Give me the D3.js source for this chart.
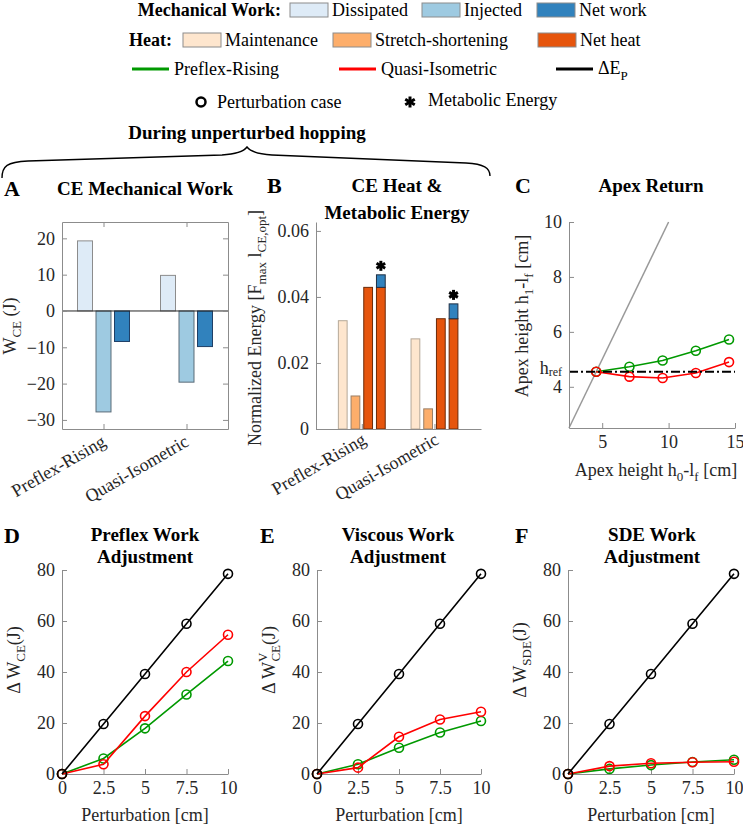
<!DOCTYPE html>
<meta charset="utf-8">
<style>
body { margin: 0; background: #fff; }
svg { font-family: "Liberation Serif", "Times New Roman", serif; }
.axis path, .axis line { stroke: #8c8c8c; stroke-width: 1; }
.axis text { fill: #262626; font-size: 18px; font-family: "Liberation Serif", "Times New Roman", serif; }
.title { font-weight: bold; font-size: 19px; text-anchor: middle; fill: #000; }
.letter { font-weight: bold; font-size: 22px; fill: #000; }
.lab { font-size: 18px; fill: #262626; }
.leg { font-size: 18px; fill: #000; }
</style>
<body>
<script src="https://d3js.org/d3.v7.min.js"></script>
<script>
// values
var categories = ["Preflex-Rising", "Quasi-Isometric"];
var workDissipated = [19.3, 9.8];
var workInjected = [-27.8, -19.6];
var workNet = [-8.4, -9.8];
var heatMaintenance = [0.0328, 0.0273];
var heatStretch = [0.0100, 0.0061];
var heatNet = [0.0429, 0.0334];
var metabolicEnergy = [0.0467, 0.0379];

var hRef = 4.55;
var apexBefore = [4.55, 7.05, 9.55, 12.05, 14.55];
var apexAfterPR = [4.55, 4.73, 4.96, 5.31, 5.72];
var apexAfterQI = [4.55, 4.37, 4.32, 4.50, 4.90];
var identityLine = [2.5, 10];

var perturbation = [0, 2.5, 5, 7.5, 10];
var deltaEp = [0, 19.6, 39.2, 58.9, 78.5];
var preflexPR = [0, 6.1, 17.9, 31.2, 44.3];
var preflexQI = [0, 3.8, 22.7, 40.0, 54.6];
var viscousPR = [0, 3.8, 10.3, 16.3, 20.8];
var viscousQI = [0, 2.5, 14.6, 21.4, 24.4];
var sdePR = [0, 2.0, 3.5, 4.7, 5.6];
var sdeQI = [0, 3.1, 4.2, 4.6, 4.8];

var workTicks = [-30, -20, -10, 0, 10, 20];
var energyTicks = [0, 0.02, 0.04, 0.06];
var apexTicksX = [5, 10, 15];
var apexTicksY = [4, 6, 8, 10];
var pertTicks = [0, 2.5, 5, 7.5, 10];
var adjTicks = [0, 20, 40, 60, 80];

var green = "#009900", red = "#ff0000";
var blues = ["#deebf7", "#9ecae1", "#3182bd"];
var oranges = ["#fee6ce", "#fdae6b", "#e6550d"];

var svg = d3.select("body").append("svg")
    .attr("width", 743)
    .attr("height", 825);

function rich(sel, parts) {
  parts.forEach(function(p) {
    var t = sel.append("tspan").text(p.t);
    if (p.size) t.attr("font-size", p.size);
    if (p.dy) t.attr("dy", p.dy);
    if (p.dx) t.attr("dx", p.dx);
  });
  return sel;
}

function yLabel(x, y, parts) {
  var t = svg.append("text").attr("class", "lab")
      .attr("text-anchor", "middle")
      .attr("transform", "translate(" + x + "," + y + ") rotate(-90)");
  rich(t, parts);
}

function star(g, cx, cy, r) {
  [90, 30, 150].forEach(function(a) {
    var dx = r * Math.cos(a * Math.PI / 180), dy = r * Math.sin(a * Math.PI / 180);
    g.append("line").attr("x1", cx - dx).attr("y1", cy - dy).attr("x2", cx + dx).attr("y2", cy + dy)
      .attr("stroke", "#000").attr("stroke-width", 3);
  });
}

function inward(axis) { return axis.tickSizeInner(-5).tickSizeOuter(0).tickPadding(7); }

// ---------- legend ----------
var leg = svg.append("g");
leg.append("text").attr("class", "leg").attr("x", 281).attr("y", 16).attr("text-anchor", "end")
  .attr("font-weight", "bold").text("Mechanical Work:");
[["Dissipated", 290], ["Injected", 422], ["Net work", 537]].forEach(function(d, i) {
  leg.append("rect").attr("x", d[1]).attr("y", 3).attr("width", 38).attr("height", 14)
    .attr("fill", blues[i]).attr("stroke", "#8c8c8c");
  leg.append("text").attr("class", "leg").attr("x", d[1] + 42).attr("y", 16).text(d[0]);
});
leg.append("text").attr("class", "leg").attr("x", 172).attr("y", 46).attr("text-anchor", "end")
  .attr("font-weight", "bold").text("Heat:");
[["Maintenance", 183], ["Stretch-shortening", 333], ["Net heat", 538]].forEach(function(d, i) {
  leg.append("rect").attr("x", d[1]).attr("y", 33).attr("width", 38).attr("height", 14)
    .attr("fill", oranges[i]).attr("stroke", "#8c8c8c");
  leg.append("text").attr("class", "leg").attr("x", d[1] + 42).attr("y", 46).text(d[0]);
});
[["Preflex-Rising", 132, green], ["Quasi-Isometric", 339, red], ["", 556, "#000"]].forEach(function(d) {
  leg.append("line").attr("x1", d[1]).attr("x2", d[1] + 37).attr("y1", 69).attr("y2", 69)
    .attr("stroke", d[2]).attr("stroke-width", 3);
  if (d[0]) leg.append("text").attr("class", "leg").attr("x", d[1] + 42).attr("y", 75).text(d[0]);
});
rich(leg.append("text").attr("class", "leg").attr("x", 598).attr("y", 74),
  [{t: "\u0394E"}, {t: "P", size: 13, dy: 6}]);
leg.append("circle").attr("cx", 201).attr("cy", 102).attr("r", 4.5)
  .attr("fill", "none").attr("stroke", "#000").attr("stroke-width", 2.5);
leg.append("text").attr("class", "leg").attr("x", 217).attr("y", 108).text("Perturbation case");
star(leg, 410, 102, 5.5);
leg.append("text").attr("class", "leg").attr("x", 428).attr("y", 106).text("Metabolic Energy");

svg.append("text").attr("class", "title").attr("x", 247).attr("y", 139).attr("font-size", 18)
  .text("During unperturbed hopping");
svg.append("path")
  .attr("d", "M2,178 C2,166 7,162 28,161 L222,155 C238,154 244,151 247,147 C250,151 256,154 272,155 L466,163 C484,164 490,168 490,176")
  .attr("fill", "none").attr("stroke", "#000").attr("stroke-width", 1.4);

// ---------- A: CE mechanical work ----------
var xA = d3.scaleLinear().domain([0.5, 2.5]).range([62, 228]);
var yA = d3.scaleLinear().domain([-32.5, 24.5]).range([429, 222]);
var inA = d3.scaleBand().domain([0, 1, 2]).range([-27.75, 27.75]).paddingInner(0.19).paddingOuter(0.095);
var workSeries = [workDissipated, workInjected, workNet];
var workEdge = ["#8c8c8c", "#5a6b78", "#1f3f66"];
var gA = svg.append("g");
workSeries.forEach(function(vals, s) {
  gA.selectAll(null).data(vals).enter().append("rect")
    .attr("x", function(d, i) { return xA(i + 1) + inA(s); })
    .attr("width", inA.bandwidth())
    .attr("y", function(d) { return yA(Math.max(0, d)); })
    .attr("height", function(d) { return Math.abs(yA(d) - yA(0)); })
    .attr("fill", blues[s]).attr("stroke", workEdge[s]);
});
gA.append("line").attr("x1", 62).attr("x2", 228).attr("y1", yA(0)).attr("y2", yA(0))
  .attr("stroke", "#262626");
svg.append("g").attr("class", "axis").attr("transform", "translate(62,0)")
  .call(inward(d3.axisLeft(yA).tickValues(workTicks)));
svg.append("g").attr("class", "axis").attr("transform", "translate(228,0)")
  .call(inward(d3.axisRight(yA).tickValues(workTicks)).tickFormat(""));
svg.append("g").attr("class", "axis").attr("transform", "translate(0,222)")
  .call(inward(d3.axisTop(xA).tickValues([1, 2])).tickFormat(""));
svg.append("g").attr("class", "axis").attr("transform", "translate(0,429)")
  .call(inward(d3.axisBottom(xA).tickValues([1, 2])).tickFormat(function(d) { return categories[d - 1]; }))
  .selectAll("text").attr("y", 0).attr("dy", 0).attr("text-anchor", "end")
  .attr("transform", "translate(3,16) rotate(-30)");
svg.append("text").attr("class", "letter").attr("x", 4).attr("y", 196).text("A");
svg.append("text").attr("class", "title").attr("x", 145).attr("y", 195).text("CE Mechanical Work");
yLabel(16, 326, [{t: "W"}, {t: "CE", size: 13, dy: 5}, {t: " (J)", dy: -5}]);

// ---------- B: heat & metabolic energy ----------
var xB = d3.scaleLinear().domain([0.37, 2.64]).range([316, 481]);
var yB = d3.scaleLinear().domain([0, 0.0627]).range([429, 222]);
var inB = d3.scaleBand().domain([0, 1, 2, 3]).range([-25.4, 25.4]).paddingInner(0.31).paddingOuter(0.155);
var heatSeries = [heatMaintenance, heatStretch, heatNet];
var heatEdge = ["#b5a898", "#9a7f66", "#6b2a08"];
var gB = svg.append("g");
heatSeries.forEach(function(vals, s) {
  gB.selectAll(null).data(vals).enter().append("rect")
    .attr("x", function(d, i) { return xB(i + 1) + inB(s); })
    .attr("width", inB.bandwidth())
    .attr("y", function(d) { return yB(d); })
    .attr("height", function(d) { return yB(0) - yB(d); })
    .attr("fill", oranges[s]).attr("stroke", heatEdge[s]);
});
// metabolic = net heat + net work stacked
gB.selectAll(null).data(heatNet).enter().append("rect")
  .attr("x", function(d, i) { return xB(i + 1) + inB(3); })
  .attr("width", inB.bandwidth())
  .attr("y", function(d) { return yB(d); })
  .attr("height", function(d) { return yB(0) - yB(d); })
  .attr("fill", oranges[2]).attr("stroke", heatEdge[2]);
gB.selectAll(null).data(metabolicEnergy).enter().append("rect")
  .attr("x", function(d, i) { return xB(i + 1) + inB(3); })
  .attr("width", inB.bandwidth())
  .attr("y", function(d) { return yB(d); })
  .attr("height", function(d, i) { return yB(heatNet[i]) - yB(d); })
  .attr("fill", blues[2]).attr("stroke", "#1f2f44");
metabolicEnergy.forEach(function(d, i) {
  star(gB, xB(i + 1) + inB(3) + inB.bandwidth() / 2, yB(d) - 9, 5);
});
svg.append("g").attr("class", "axis").attr("transform", "translate(316,0)")
  .call(inward(d3.axisLeft(yB).tickValues(energyTicks))
    .tickFormat(function(d) { return d === 0 ? "0" : d3.format(".2f")(d); }));
svg.append("g").attr("class", "axis").attr("transform", "translate(0,429)")
  .call(inward(d3.axisBottom(xB).tickValues([1, 2])).tickFormat(function(d) { return categories[d - 1]; }))
  .selectAll("text").attr("y", 0).attr("dy", 0).attr("text-anchor", "end")
  .attr("transform", "translate(5,14) rotate(-30)");
svg.append("text").attr("class", "letter").attr("x", 267).attr("y", 193).text("B");
svg.append("text").attr("class", "title").attr("x", 397).attr("y", 192).text("CE Heat &");
svg.append("text").attr("class", "title").attr("x", 397).attr("y", 219).text("Metabolic Energy");
yLabel(261, 328, [{t: "Normalized Energy [F"}, {t: "max", size: 13, dy: 5}, {t: " l", dy: -5},
  {t: "CE,opt", size: 13, dy: 5}, {t: "]", dy: -5}]);

// ---------- C: apex return ----------
var xC = d3.scaleLinear().domain([2.5, 15]).range([569, 735]);
var yC = d3.scaleLinear().domain([2.5, 10]).range([428, 222]);
var gC = svg.append("g");
gC.append("path").datum(identityLine)
  .attr("d", d3.line().x(function(d) { return xC(d); }).y(function(d) { return yC(d); }))
  .attr("fill", "none").attr("stroke", "#999").attr("stroke-width", 1.5);
[[apexAfterPR, green], [apexAfterQI, red]].forEach(function(s) {
  gC.append("path").datum(s[0])
    .attr("d", d3.line().x(function(d, i) { return xC(apexBefore[i]); }).y(function(d) { return yC(d); }))
    .attr("fill", "none").attr("stroke", s[1]).attr("stroke-width", 1.6);
  gC.selectAll(null).data(s[0]).enter().append("circle")
    .attr("cx", function(d, i) { return xC(apexBefore[i]); })
    .attr("cy", function(d) { return yC(d); })
    .attr("r", 4.5).attr("fill", "none").attr("stroke", s[1]).attr("stroke-width", 1.6);
});
gC.append("line").attr("x1", xC(2.5)).attr("x2", xC(15)).attr("y1", yC(hRef)).attr("y2", yC(hRef))
  .attr("stroke", "#000").attr("stroke-width", 2).attr("stroke-dasharray", "9,3,2,3");
svg.append("g").attr("class", "axis").attr("transform", "translate(569,0)")
  .call(inward(d3.axisLeft(yC).tickValues(apexTicksY)));
svg.append("g").attr("class", "axis").attr("transform", "translate(0,428)")
  .call(inward(d3.axisBottom(xC).tickValues(apexTicksX)));
rich(svg.append("text").attr("class", "lab").attr("x", 562).attr("y", yC(hRef) + 2).attr("text-anchor", "end"),
  [{t: "h"}, {t: "ref", size: 12, dy: 2}]);
svg.append("text").attr("class", "letter").attr("x", 515).attr("y", 193).text("C");
svg.append("text").attr("class", "title").attr("x", 651).attr("y", 192).text("Apex Return");
yLabel(528, 316, [{t: "Apex height h"}, {t: "1", size: 13, dy: 5}, {t: "-l", dy: -5},
  {t: "f", size: 13, dy: 5}, {t: " [cm]", dy: -5}]);
rich(svg.append("text").attr("class", "lab").attr("x", 656).attr("y", 476).attr("text-anchor", "middle"),
  [{t: "Apex height h"}, {t: "0", size: 13, dy: 5}, {t: "-l", dy: -5},
   {t: "f", size: 13, dy: 5}, {t: " [cm]", dy: -5}]);

// ---------- D, E, F: work adjustment ----------
var panels = [
  {left: 62, right: 228, pr: preflexPR, qi: preflexQI, letter: "D", lx: 4, tx: 145,
   title: ["Preflex Work", "Adjustment"], ylx: 20,
   ylab: [{t: "\u0394 W"}, {t: "CE", size: 13, dy: 5}, {t: "(J)", dy: -5}]},
  {left: 317, right: 481, pr: viscousPR, qi: viscousQI, letter: "E", lx: 260, tx: 398,
   title: ["Viscous Work", "Adjustment"], ylx: 275,
   ylab: [{t: "\u0394 W"}, {t: "V", size: 13, dy: -8}, {t: "CE", size: 13, dx: -9, dy: 13}, {t: "(J)", dy: -5}]},
  {left: 568, right: 734, pr: sdePR, qi: sdeQI, letter: "F", lx: 515, tx: 652,
   title: ["SDE Work", "Adjustment"], ylx: 526,
   ylab: [{t: "\u0394 W"}, {t: "SDE", size: 13, dy: 5}, {t: "(J)", dy: -5}]}
];
panels.forEach(function(p) {
  var x = d3.scaleLinear().domain([0, 10]).range([p.left, p.right]);
  var y = d3.scaleLinear().domain([0, 80]).range([774, 570]);
  var line = d3.line().x(function(d, i) { return x(perturbation[i]); }).y(function(d) { return y(d); });
  svg.append("g").attr("class", "axis").attr("transform", "translate(" + p.left + ",0)")
    .call(inward(d3.axisLeft(y).tickValues(adjTicks)));
  svg.append("g").attr("class", "axis").attr("transform", "translate(0,774)")
    .call(inward(d3.axisBottom(x).tickValues(pertTicks)).tickFormat(d3.format("")));
  var g = svg.append("g");
  [[p.pr, green], [p.qi, red], [deltaEp, "#000"]].forEach(function(s) {
    g.append("path").datum(s[0]).attr("d", line)
      .attr("fill", "none").attr("stroke", s[1]).attr("stroke-width", 1.6);
    g.selectAll(null).data(s[0]).enter().append("circle")
      .attr("cx", function(d, i) { return x(perturbation[i]); })
      .attr("cy", function(d) { return y(d); })
      .attr("r", 4.5).attr("fill", "none").attr("stroke", s[1]).attr("stroke-width", 1.6);
  });
  svg.append("text").attr("class", "letter").attr("x", p.lx).attr("y", 543).text(p.letter);
  svg.append("text").attr("class", "title").attr("x", p.tx).attr("y", 541).text(p.title[0]);
  svg.append("text").attr("class", "title").attr("x", p.tx).attr("y", 563).text(p.title[1]);
  yLabel(p.ylx, 660, p.ylab);
  svg.append("text").attr("class", "lab").attr("x", (p.left + p.right) / 2).attr("y", 821)
    .attr("text-anchor", "middle").text("Perturbation [cm]");
});
</script>
